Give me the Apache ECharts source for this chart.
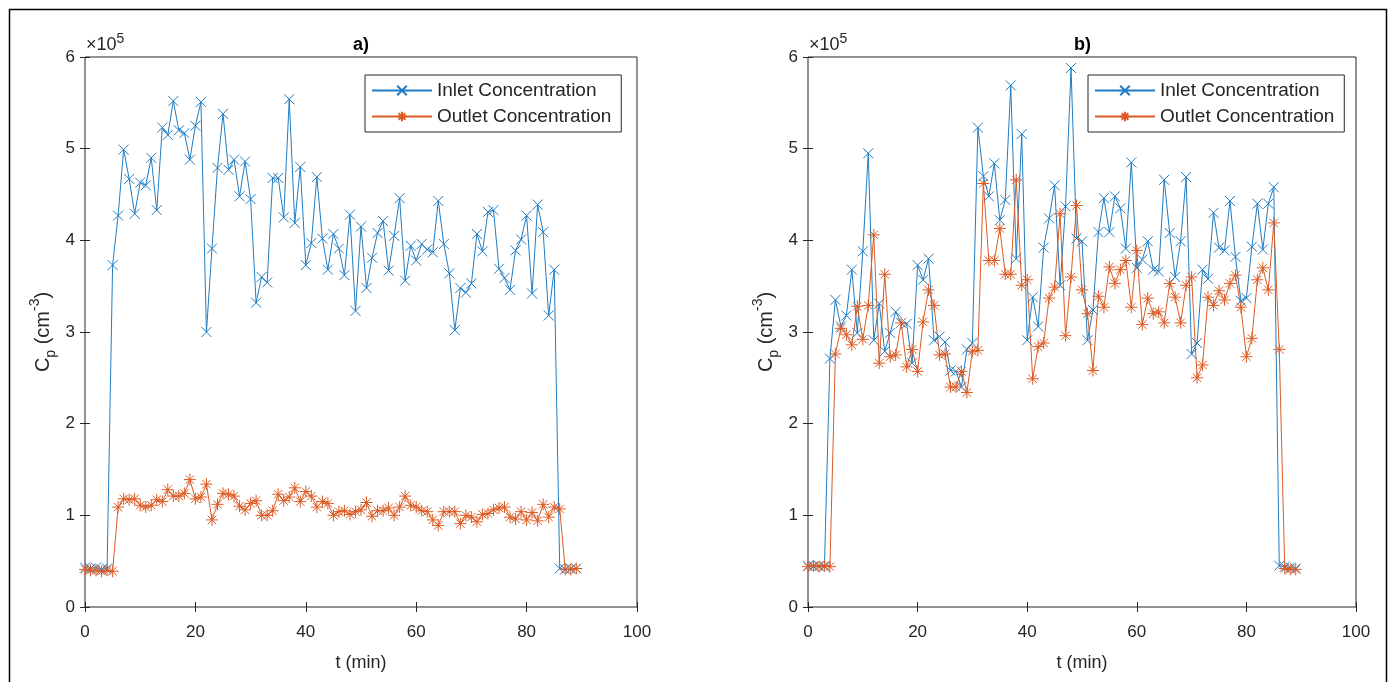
<!DOCTYPE html>
<html>
<head>
<meta charset="utf-8">
<title>Inlet / Outlet Concentration</title>
<script src="https://cdn.jsdelivr.net/npm/echarts@6/dist/echarts.min.js"></script>
<style>
  html, body { margin: 0; padding: 0; background: #fff; }
  #main { width: 1390px; height: 682px; }
</style>
</head>
<body>
<div id="main"></div>
<script>
// time in minutes
var minutes = [0,1,2,3,4,5,6,7,8,9,10,11,12,13,14,15,16,17,18,19,20,21,22,23,24,25,26,27,28,29,
  30,31,32,33,34,35,36,37,38,39,40,41,42,43,44,45,46,47,48,49,50,51,52,53,54,55,56,57,58,59,
  60,61,62,63,64,65,66,67,68,69,70,71,72,73,74,75,76,77,78,79,80,81,82,83,84,85,86,87,88,89];

// panel a) values, x10^5 cm^-3
var inletA = [0.43,0.42,0.43,0.41,0.42,3.73,4.27,4.99,4.67,4.29,4.63,4.60,4.90,4.33,5.23,5.15,5.52,5.20,5.17,4.88,
  5.25,5.51,3.00,3.91,4.79,5.38,4.77,4.88,4.48,4.86,4.45,3.32,3.60,3.54,4.68,4.68,4.25,5.54,4.19,4.80,
  3.73,3.97,4.69,4.02,3.68,4.07,3.91,3.62,4.28,3.23,4.15,3.48,3.81,4.08,4.21,3.67,4.05,4.46,3.56,3.94,
  3.78,3.96,3.90,3.87,4.43,3.96,3.64,3.02,3.48,3.43,3.53,4.07,3.88,4.31,4.33,3.69,3.59,3.46,3.89,4.01,
  4.27,3.42,4.39,4.09,3.18,3.68,0.42,0.41,0.42,0.42];
var outletA = [0.41,0.40,0.40,0.39,0.40,0.39,1.09,1.18,1.17,1.18,1.11,1.09,1.11,1.17,1.15,1.28,1.21,1.21,1.24,1.39,
  1.18,1.20,1.34,0.95,1.12,1.24,1.23,1.21,1.10,1.06,1.13,1.16,1.00,1.00,1.05,1.23,1.16,1.20,1.30,1.15,
  1.26,1.21,1.09,1.15,1.13,1.00,1.04,1.05,1.01,1.04,1.06,1.14,0.99,1.05,1.05,1.08,1.00,1.09,1.21,1.11,
  1.09,1.05,1.04,0.95,0.89,1.04,1.04,1.04,0.91,1.00,0.98,0.93,1.01,1.02,1.06,1.08,1.09,0.98,0.96,1.04,
  0.95,1.03,0.94,1.12,0.98,1.09,1.07,0.41,0.41,0.42];

// panel b) values, x10^5 cm^-3
var inletB = [0.45,0.44,0.45,0.44,2.71,3.35,3.06,3.18,3.68,2.99,3.88,4.95,2.91,3.31,2.79,2.99,3.22,3.10,3.09,2.66,
  3.73,3.57,3.80,2.91,2.95,2.89,2.58,2.57,2.40,2.81,2.88,5.23,4.70,4.48,4.84,4.22,4.44,5.69,3.80,5.16,
  2.91,3.38,3.06,3.92,4.24,4.60,3.51,4.37,5.88,4.02,3.99,2.91,3.24,4.09,4.46,4.09,4.48,4.35,3.91,4.85,
  3.70,3.79,3.99,3.68,3.66,4.66,4.08,3.60,3.99,4.69,2.76,2.88,3.68,3.58,4.30,3.92,3.89,4.43,3.82,3.34,
  3.37,3.93,4.40,3.90,4.40,4.58,0.45,0.44,0.43,0.42];
var outletB = [0.44,0.45,0.44,0.45,0.44,2.76,3.04,2.97,2.86,3.28,2.92,3.29,4.06,2.66,3.63,2.73,2.75,3.10,2.62,2.81,
  2.57,3.11,3.46,3.29,2.75,2.76,2.40,2.40,2.57,2.34,2.79,2.80,4.62,3.78,3.78,4.13,3.63,3.63,4.66,3.51,
  3.57,2.49,2.84,2.88,3.37,3.49,4.29,2.96,3.60,4.38,3.46,3.20,2.58,3.39,3.27,3.71,3.53,3.68,3.78,3.27,
  3.89,3.08,3.37,3.20,3.22,3.10,3.53,3.38,3.10,3.51,3.60,2.50,2.64,3.38,3.29,3.45,3.35,3.53,3.62,3.27,
  2.73,2.93,3.57,3.70,3.46,4.19,2.81,0.42,0.41,0.41];

var panelTitles = ["a)", "b)"];
var seriesNames = ["Inlet Concentration", "Outlet Concentration"];

var FONT = "'Liberation Sans', Arial, sans-serif";
var INK = "#262626";
var BLUE = "#1f7cc2";
var ORANGE = "#dc5b24";
var xMark = "path://M0,0L10,10M10,0L0,10";
var starMark = "path://M5,0L5,10M0,5L10,5M1.5,1.5L8.5,8.5M8.5,1.5L1.5,8.5";

var pairs = function(ys) {
  return minutes.map(function(t, i) { return [t, ys[i]]; });
};

var grids = [
  { left: 85, top: 57, width: 552, height: 550 },
  { left: 808, top: 57, width: 548, height: 550 }
];

var xAxes = [];
var yAxes = [];
grids.forEach(function(g, i) {
  xAxes.push({
    type: "value", gridIndex: i, min: 0, max: 100, interval: 20, position: "bottom",
    axisLine: { show: false },
    axisTick: { inside: true, length: 5, lineStyle: { color: INK } },
    axisLabel: { color: INK, fontSize: 17, fontFamily: FONT, margin: 17 },
    splitLine: { show: false },
    name: "t (min)", nameLocation: "middle", nameGap: 47,
    nameTextStyle: { color: INK, fontSize: 18, fontFamily: FONT }
  });
  xAxes.push({
    type: "value", gridIndex: i, min: 0, max: 100, interval: 20, position: "top",
    axisLine: { show: false },
    axisTick: { inside: true, length: 5, lineStyle: { color: INK } },
    axisLabel: { show: false },
    splitLine: { show: false }
  });
  yAxes.push({
    type: "value", gridIndex: i, min: 0, max: 6, interval: 1, position: "left",
    axisLine: { show: false },
    axisTick: { inside: true, length: 5, lineStyle: { color: INK } },
    axisLabel: { color: INK, fontSize: 17, fontFamily: FONT, margin: 10 },
    splitLine: { show: false },
    name: "{n|C}{sub|p}{n| (cm}{sup|-3}{n|)}",
    nameLocation: "middle", nameRotate: 90, nameGap: 27,
    nameTextStyle: {
      color: INK,
      rich: {
        n: { fontSize: 20, fontFamily: FONT, color: INK, lineHeight: 30 },
        sub: { fontSize: 14, fontFamily: FONT, color: INK, verticalAlign: "bottom", lineHeight: 14 },
        sup: { fontSize: 14, fontFamily: FONT, color: INK, verticalAlign: "top", lineHeight: 14 }
      }
    }
  });
  yAxes.push({
    type: "value", gridIndex: i, min: 0, max: 6, interval: 1, position: "right",
    axisLine: { show: false },
    axisTick: { inside: true, length: 5, lineStyle: { color: INK } },
    axisLabel: { show: false },
    splitLine: { show: false }
  });
});

var makeSeries = function(name, data, panel, color, symbol, size) {
  return {
    name: name,
    type: "line",
    xAxisIndex: panel * 2,
    yAxisIndex: panel * 2,
    data: pairs(data),
    symbol: symbol,
    symbolSize: size,
    showAllSymbol: true,
    symbolKeepAspect: true,
    lineStyle: { color: color, width: 1 },
    itemStyle: { color: color, borderColor: color, borderWidth: 1 },
    emphasis: { disabled: true },
    animation: false
  };
};

var series = [
  makeSeries(seriesNames[0], inletA, 0, BLUE, xMark, 10),
  makeSeries(seriesNames[1], outletA, 0, ORANGE, starMark, 12),
  makeSeries(seriesNames[0], inletB, 1, BLUE, xMark, 10),
  makeSeries(seriesNames[1], outletB, 1, ORANGE, starMark, 12)
];

var legendAt = function(left) {
  return {
    orient: "vertical",
    left: left,
    top: 75,
    data: seriesNames,
    itemWidth: 60,
    itemHeight: 12,
    itemGap: 7,
    padding: [6, 10, 6, 6],
    borderColor: INK,
    borderWidth: 1,
    backgroundColor: "#fff",
    selectedMode: false,
    textStyle: { color: INK, fontSize: 19, fontFamily: FONT }
  };
};

var textBits = [];
grids.forEach(function(g, i) {
  textBits.push({
    type: "text", left: g.left + g.width / 2 - 8, top: 36,
    style: { text: panelTitles[i], font: "bold 18px " + FONT, fill: "#000" }
  });
  textBits.push({
    type: "text", left: g.left + 1, top: 32,
    style: {
      text: "{a|\u00d710}{b|5}",
      rich: {
        a: { fontSize: 18, fontFamily: FONT, fill: INK, lineHeight: 26 },
        b: { fontSize: 14, fontFamily: FONT, fill: INK, verticalAlign: "top", lineHeight: 12 }
      }
    }
  });
});
textBits.push({
  type: "rect", left: 7, top: 7,
  shape: { width: 1377, height: 674 },
  style: { fill: "none", stroke: "#000", lineWidth: 1.5 },
  silent: true
});

var myChart = echarts.init(document.getElementById("main"));
myChart.setOption({
  animation: false,
  grid: grids.map(function(g) {
    return Object.assign({ show: true, borderColor: INK, borderWidth: 1, backgroundColor: "#fff" }, g);
  }),
  xAxis: xAxes,
  yAxis: yAxes,
  legend: [legendAt(365), legendAt(1088)],
  series: series,
  graphic: textBits
});
</script>
</body>
</html>
